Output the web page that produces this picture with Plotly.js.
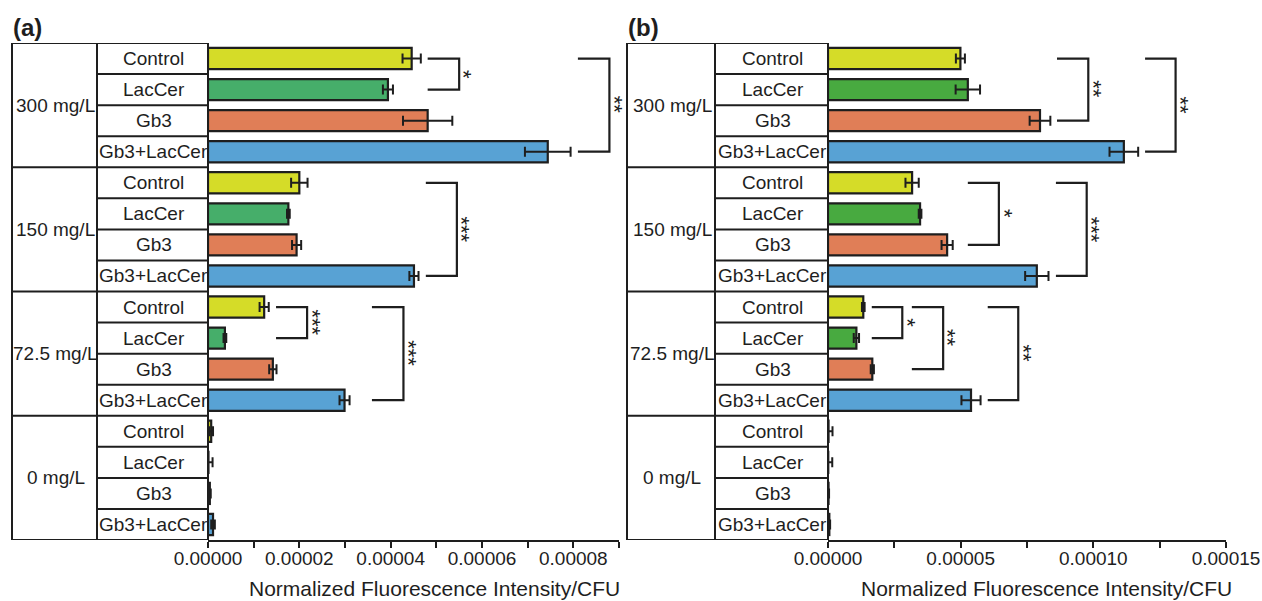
<!DOCTYPE html>
<html><head><meta charset="utf-8">
<script src="https://cdn.plot.ly/plotly-3.0.1.min.js"></script>
<style>html,body{margin:0;padding:0;background:#fff}#chart{width:1262px;height:601px}</style>
</head><body><div id="chart"></div>
<script>
// ---------- data ----------
const groups = ["300 mg/L", "150 mg/L", "72.5 mg/L", "0 mg/L"];
const treatments = ["Control", "LacCer", "Gb3", "Gb3+LacCer"];
// rows: for each group, the four treatments (top to bottom)
const valuesA = [4.46e-5, 3.94e-5, 4.81e-5, 7.44e-5,
                 2.00e-5, 1.76e-5, 1.94e-5, 4.51e-5,
                 1.23e-5, 0.37e-5, 1.42e-5, 2.99e-5,
                 0.07e-5, 0.01e-5, 0.04e-5, 0.11e-5];
const errorsA = [0.20e-5, 0.11e-5, 0.54e-5, 0.50e-5,
                 0.18e-5, 0.03e-5, 0.10e-5, 0.10e-5,
                 0.10e-5, 0.03e-5, 0.08e-5, 0.11e-5,
                 0.04e-5, 0.09e-5, 0.02e-5, 0.04e-5];
const valuesB = [4.99e-5, 5.27e-5, 7.99e-5, 11.15e-5,
                 3.17e-5, 3.47e-5, 4.49e-5, 7.87e-5,
                 1.33e-5, 1.07e-5, 1.67e-5, 5.39e-5,
                 0.02e-5, 0.01e-5, 0.02e-5, 0.05e-5];
const errorsB = [0.17e-5, 0.46e-5, 0.39e-5, 0.54e-5,
                 0.25e-5, 0.05e-5, 0.21e-5, 0.44e-5,
                 0.05e-5, 0.10e-5, 0.06e-5, 0.36e-5,
                 0.15e-5, 0.15e-5, 0.02e-5, 0.03e-5];
const ticksA = [0, 2e-5, 4e-5, 6e-5, 8e-5];
const ticksB = [0, 5e-5, 10e-5, 15e-5];
const axisTitle = "Normalized Fluorescence Intensity/CFU";
// significance comparisons: [first row, last row, label]
const sigA = [[0, 1, "*"], [0, 3, "**"], [4, 7, "***"], [8, 9, "***"], [8, 11, "***"]];
const sigB = [[0, 2, "**"], [0, 3, "**"], [4, 6, "*"], [4, 7, "***"], [8, 9, "*"], [8, 10, "**"], [8, 11, "**"]];

// ---------- styles / layout geometry ----------
const W = 1262, H = 601, MT = 43, MB = 61;
const colorsA = ["#d5dc28", "#46ae6a", "#e07e57", "#58a2d4"];
const colorsB = ["#d5dc28", "#48aa40", "#e07e57", "#58a2d4"];
const ink = "#1e1e1e";
const FONT = "Liberation Sans, Arial, sans-serif";
// bracket start x / arm length (data units) per comparison
const brA = [[4.81e-5, 0.69e-5], [8.10e-5, 0.69e-5], [4.77e-5, 0.68e-5], [1.49e-5, 0.68e-5], [3.59e-5, 0.69e-5]];
const brB = [[8.63e-5, 1.18e-5], [11.95e-5, 1.15e-5], [5.27e-5, 1.17e-5], [8.59e-5, 1.16e-5], [1.65e-5, 1.15e-5], [3.16e-5, 1.18e-5], [6.02e-5, 1.15e-5]];

const px = v => v / W;                              // page px -> paper x
const py = v => (H - MB - v) / (H - MT - MB);       // page px -> paper y

const rows = [];
const rowColorsA = [], rowColorsB = [];
groups.forEach((g, gi) => treatments.forEach((t, ti) => {
  rows.push(gi * 4 + ti);
  rowColorsA.push(colorsA[ti]);
  rowColorsB.push(colorsB[ti]);
}));

function barTrace(vals, errs, cols, xa) {
  return {
    type: "bar", orientation: "h", x: vals, y: rows, xaxis: xa, yaxis: "y",
    width: 0.68,
    marker: {color: cols, line: {color: ink, width: 2.2}},
    error_x: {type: "data", array: errs, visible: true, color: ink, thickness: 2, width: 5},
    hoverinfo: "x", showlegend: false
  };
}

const traces = [barTrace(valuesA, errorsA, rowColorsA, "x"), barTrace(valuesB, errorsB, rowColorsB, "x2")];

const shapes = [];
const annotations = [];
const lineStyle = {color: ink, width: 2};

// table for each panel: [outer left px, inner divider px, axis px]
const tables = [[12, 97, 208], [627, 715, 828]];
tables.forEach(([x0, xm, x1]) => {
  shapes.push({type: "rect", xref: "paper", yref: "y", x0: px(x0), x1: px(x1), y0: -0.5, y1: 15.5, line: lineStyle});
  shapes.push({type: "line", xref: "paper", yref: "y", x0: px(xm), x1: px(xm), y0: -0.5, y1: 15.5, line: lineStyle});
  for (let r = 1; r < 16; r++) {
    const full = r % 4 === 0;
    shapes.push({type: "line", xref: "paper", yref: "y", x0: px(full ? x0 : xm), x1: px(x1), y0: r - 0.5, y1: r - 0.5, line: lineStyle});
  }
  rows.forEach(r => {
    annotations.push({xref: "paper", yref: "y", x: px((xm + x1) / 2 + 1), y: r, text: treatments[r % 4],
      showarrow: false, xanchor: "center", yanchor: "middle", font: {family: FONT, size: 19, color: ink}});
  });
  groups.forEach((g, gi) => {
    annotations.push({xref: "paper", yref: "y", x: px((x0 + xm) / 2 + 1), y: gi * 4 + 1.5, text: g,
      showarrow: false, xanchor: "center", yanchor: "middle", font: {family: FONT, size: 19, color: ink}});
  });
});

function addBrackets(sig, br, xa) {
  sig.forEach(([r0, r1, lab], i) => {
    const [xs, len] = br[i];
    const xv = xs + len;
    shapes.push({type: "path", xref: xa, yref: "y",
      path: `M ${xs},${r0} L ${xv},${r0} L ${xv},${r1} L ${xs},${r1}`,
      line: {color: ink, width: 2.2}});
    annotations.push({xref: xa, yref: "y", x: xv, y: (r0 + r1) / 2, xshift: 5, text: lab, textangle: 90,
      showarrow: false, xanchor: "center", yanchor: "middle", font: {family: FONT, size: 22, color: ink}});
  });
}
addBrackets(sigA, brA, "x");
addBrackets(sigB, brB, "x2");

// panel labels and axis titles
annotations.push({xref: "paper", yref: "paper", x: px(11), y: py(27), text: "<b>(a)</b>", showarrow: false,
  xanchor: "left", yanchor: "middle", font: {family: FONT, size: 24, color: ink}});
annotations.push({xref: "paper", yref: "paper", x: px(626), y: py(27), text: "<b>(b)</b>", showarrow: false,
  xanchor: "left", yanchor: "middle", font: {family: FONT, size: 24, color: ink}});
annotations.push({xref: "paper", yref: "paper", x: px(434), y: py(588), text: axisTitle, showarrow: false,
  xanchor: "center", yanchor: "middle", font: {family: FONT, size: 21, color: ink}});
annotations.push({xref: "paper", yref: "paper", x: px(1046), y: py(588), text: axisTitle, showarrow: false,
  xanchor: "center", yanchor: "middle", font: {family: FONT, size: 21, color: ink}});

function xAxis(domain, range, tickvals, minorDtick) {
  return {
    domain: domain, range: range, anchor: "y", tickmode: "array", tickvals: tickvals, tickformat: ".5f",
    ticks: "outside", ticklen: 6, tickwidth: 2, tickcolor: ink, ticklabelstandoff: -6,
    minor: {tickmode: "linear", tick0: 0, dtick: minorDtick, ticks: "outside", ticklen: 6, tickwidth: 2, tickcolor: ink, showgrid: false},
    showline: true, linewidth: 2, linecolor: ink, showgrid: false, zeroline: false,
    tickfont: {family: FONT, size: 19, color: ink}, fixedrange: true
  };
}

const layout = {
  width: W, height: H,
  margin: {l: 0, r: 0, t: MT, b: MB, pad: 0},
  paper_bgcolor: "#ffffff", plot_bgcolor: "rgba(0,0,0,0)",
  font: {family: FONT, color: ink},
  xaxis: xAxis([px(208), px(619)], [0, 9e-5], ticksA, 1e-5),
  xaxis2: xAxis([px(828), px(1226)], [0, 15e-5], ticksB, 2.5e-5),
  yaxis: {domain: [0, 1], range: [15.5, -0.5], visible: false, fixedrange: true},
  shapes: shapes,
  annotations: annotations,
  bargap: 0.3
};

Plotly.newPlot("chart", traces, layout, {displayModeBar: false, staticPlot: true});
</script>
</body></html>
